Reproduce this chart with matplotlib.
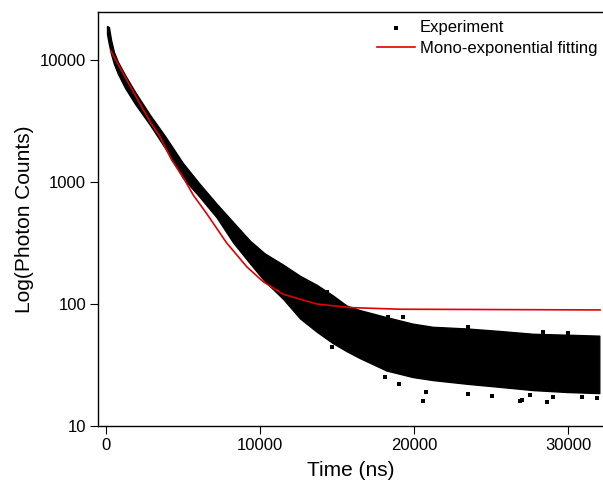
import numpy as np
import matplotlib.pyplot as plt

plt.rcParams['font.family'] = ['Liberation Sans', 'DejaVu Sans']

t_band = [80, 200, 340, 530, 790, 1250, 1900, 2870, 3840, 5000, 6100, 7200,
          8250, 9350, 10300, 11500, 12600, 13700, 14700, 15620, 16480, 18200,
          19900, 21200, 23400, 25600, 27700, 29900, 32000]
band_high = [19000, 18600, 14600, 11600, 9630, 7530, 5470, 3540, 2380, 1430,
             960, 660, 470, 330, 260, 210, 170, 143, 118, 97, 89, 78,
             69, 65, 63, 60, 57, 56, 55]
band_low = [16300, 13500, 11200, 9270, 7680, 5900, 4360, 2930, 1900, 1080,
            750, 510, 320, 215, 154, 110, 76, 59, 48, 41, 36, 28.5,
            25.2, 23.8, 22.2, 20.9, 19.7, 19.0, 18.6]

# scattered points outside the band
t_out = [14330, 18320, 19270, 23490, 28350, 29970, 14650, 18100, 19000, 20770,
         20570, 23490, 25050, 26860, 28590, 31840, 26970, 29000, 30880, 27510]
c_out = [126, 78.7, 78.7, 65.2, 59.3, 57.8, 44.7, 25, 22.1, 19.1,
         16.0, 18.3, 17.6, 16.0, 15.8, 16.9, 16.3, 17.4, 17.4, 17.9]

# mono-exponential fit curve
t_fit = [318, 1500, 2866, 3500, 4274, 5000, 5674, 6543, 7840, 8500, 9137,
         10214, 11511, 13677, 15837, 19078, 32050]
c_fit = [11900, 6370, 3120, 2360, 1514, 1100, 780, 550, 316, 252, 202,
         152, 120, 100, 93.5, 90.6, 89.4]

fig = plt.figure(figsize=(6.03, 4.86), dpi=100)
ax = fig.add_axes([98/603, 1-426/486, 1-98/603, (426-12.5)/486])

ax.fill_between(t_band, band_low, band_high, color='k', lw=1.0)
ax.scatter(t_out, c_out, marker='s', s=9, color='k', lw=0, label='Experiment')
ax.plot(t_fit, c_fit, color='#e00000', lw=1.2, label='Mono-exponential fitting')

ax.set_yscale('log')
ax.set_xlim(-506, 32240)
ax.set_ylim(10, 24500)
ax.set_yticks([10, 100, 1000, 10000])
ax.set_yticklabels(['10', '100', '1000', '10000'])
ax.minorticks_off()
ax.set_xticks([0, 10000, 20000, 30000])
ax.tick_params(direction='out', length=5.5, width=0.8, labelsize=12, pad=3)
ax.spines['right'].set_visible(False)
for s in ['left', 'bottom', 'top']:
    ax.spines[s].set_linewidth(1.0)

ax.set_xlabel('Time (ns)', fontsize=15, labelpad=6)
ax.set_ylabel('Log(Photon Counts)', fontsize=15, labelpad=4.5)

ax.legend(loc='upper left', bbox_to_anchor=(0.552, 0.982), frameon=False,
          fontsize=12, handlelength=2.3, handletextpad=0.3, borderpad=0,
          borderaxespad=0, labelspacing=0.35, scatterpoints=1)

fig.savefig('out.png', dpi=100)
